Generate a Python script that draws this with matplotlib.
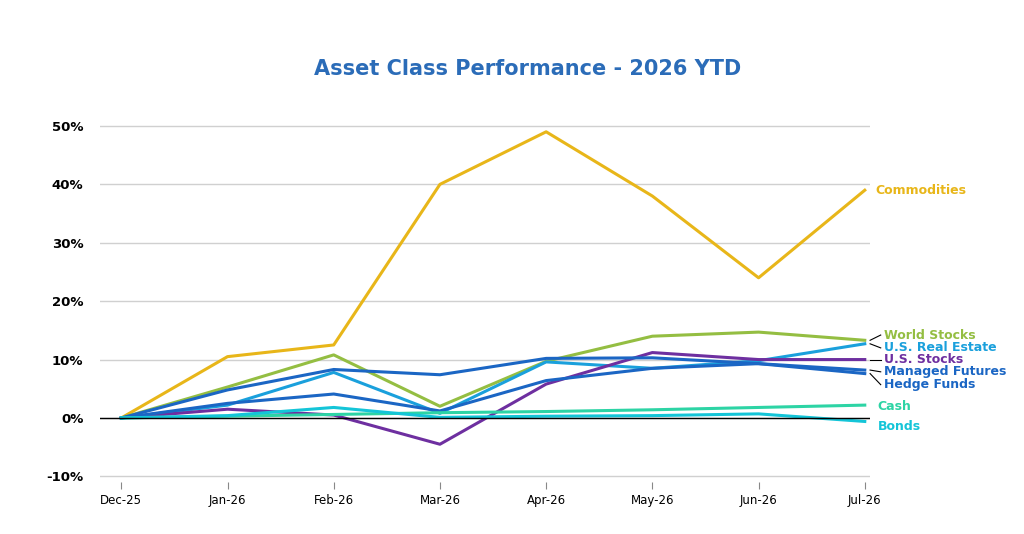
import matplotlib
matplotlib.use("Agg")
import matplotlib.pyplot as plt

months = ["Dec-25","Jan-26","Feb-26","Mar-26","Apr-26","May-26","Jun-26","Jul-26"]
commodities = [0, 10.5, 12.5, 40, 49, 38, 24, 39]
world_stocks = [0, 5.3, 10.8, 2.0, 9.7, 14.0, 14.7, 13.3]
real_estate = [0, 2.2, 7.8, 0.8, 9.6, 8.5, 9.8, 12.7]
us_stocks = [0, 1.5, 0.5, -4.5, 5.8, 11.2, 10.0, 10.0]
managed_futures = [0, 4.8, 8.3, 7.4, 10.2, 10.3, 9.3, 8.2]
hedge_funds = [0, 2.5, 4.1, 1.2, 6.4, 8.5, 9.3, 7.6]
cash = [0, 0.3, 0.6, 0.9, 1.1, 1.4, 1.8, 2.2]
bonds = [0, 0.4, 1.8, 0.1, 0.3, 0.4, 0.7, -0.6]
yticks = [-10, 0, 10, 20, 30, 40, 50]

series = [
    ("Commodities", commodities, "#E8B619", 39),
    ("World Stocks", world_stocks, "#94BE42", 14.2),
    ("U.S. Real Estate", real_estate, "#1AA0DC", 12.0),
    ("U.S. Stocks", us_stocks, "#6E2FA0", 10.0),
    ("Managed Futures", managed_futures, "#1B66C4", 7.9),
    ("Hedge Funds", hedge_funds, "#1B66C4", 5.7),
    ("Cash", cash, "#2DD4A5", 1.9),
    ("Bonds", bonds, "#14C5D8", -1.4),
]

fig = plt.figure(figsize=(10.24, 5.34), dpi=100)
ax = fig.add_axes([0.0977, 0.097, 0.752, 0.689])
x = list(range(len(months)))
for name, vals, col, ly in series:
    ax.plot(x, vals, color=col, lw=2.2, solid_joinstyle="round")
for name, vals, col, ly in series:
    if name == "Commodities":
        ax.text(7.1, vals[-1], name, color=col, fontsize=9, fontweight="bold", va="center")
    elif name in ("Cash", "Bonds"):
        ax.text(7.12, ly, name, color=col, fontsize=9, fontweight="bold", va="center")
    else:
        ax.plot([7.05, 7.15], [vals[-1], ly], color="black", lw=0.8, clip_on=False)
        ax.text(7.18, ly, name, color=col, fontsize=9, fontweight="bold", va="center")

ax.set_xlim(-0.2, 7.05)
ax.set_ylim(-11, 52)
ax.set_yticks(yticks)
ax.set_yticklabels([f"{v}%" for v in yticks], fontsize=9.5, fontweight="bold")
ax.set_xticks(x)
ax.set_xticklabels(months, fontsize=8.5)
ax.grid(axis="y", color="#d0d0d0", lw=1)
ax.axhline(0, color="black", lw=1)
ax.set_axisbelow(True)
for s in ax.spines.values():
    s.set_visible(False)
ax.tick_params(axis="y", length=0, pad=12)
ax.tick_params(axis="x", length=5, color="#888888")
fig.text(0.515, 0.86, "Asset Class Performance - 2026 YTD", ha="center",
         fontsize=15, fontweight="bold", color="#2B6CB8")
fig.savefig("out.png", dpi=100)
